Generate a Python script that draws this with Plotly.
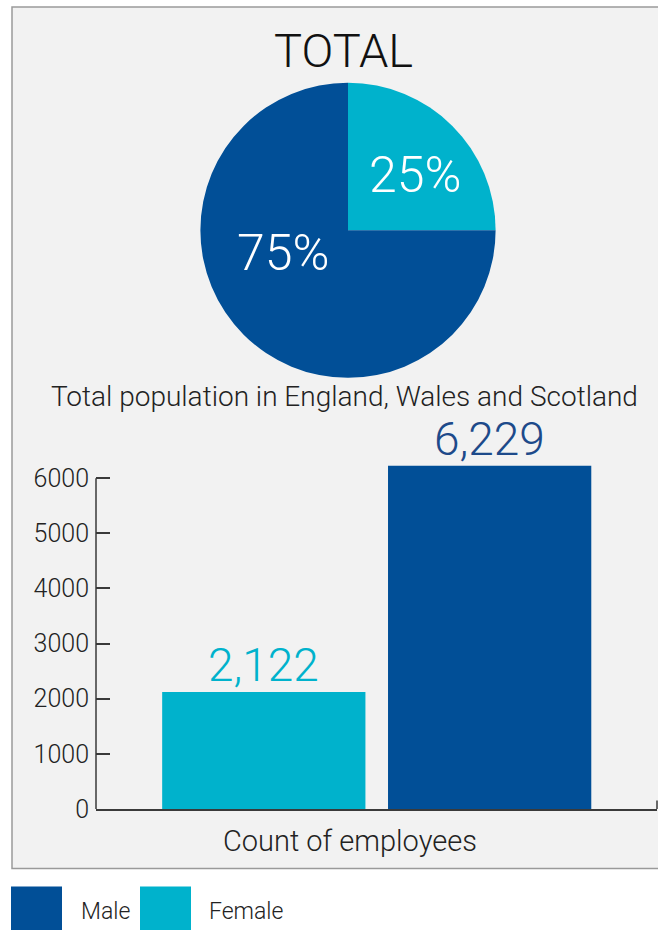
import math
import plotly.graph_objects as go

W, H = 658, 940

# ---- data ----
categories = ["Female", "Male"]
pie_values = [25, 75]
bar_values = [2122, 6229]
colors = {"Male": "#014f97", "Female": "#00b2cc"}
label_colors = {"Male": "#1d4a8a", "Female": "#00b2cc"}
y_ticks = [0, 1000, 2000, 3000, 4000, 5000, 6000]
title_text = "TOTAL"
subtitle_text = "Total population in England, Wales and Scotland"
xlabel_text = "Count of employees"
legend_order = ["Male", "Female"]

# label placement inside pie (angle clockwise from 12 o'clock in degrees, radius fraction)
pie_label_pos = {"Female": (50, 0.58), "Male": (250, 0.46)}

FONT = "Roboto, Liberation Sans, Arial, sans-serif"

def px(x):
    return x / W

def py(y):
    return 1 - y / H

PIE_CX, PIE_CY, PIE_R = 348, 234, 150

fig = go.Figure()

# Pie
fig.add_trace(go.Pie(
    labels=categories,
    values=pie_values,
    sort=False,
    direction="clockwise",
    rotation=0,
    marker=dict(colors=[colors[c] for c in categories], line=dict(width=0)),
    textinfo="none",
    domain=dict(x=[px(PIE_CX - PIE_R), px(PIE_CX + PIE_R)],
                y=[py(PIE_CY + PIE_R), py(PIE_CY - PIE_R)]),
    showlegend=False,
    hoverinfo="label+percent",
))

total = sum(pie_values)
for c, v in zip(categories, pie_values):
    ang, rf = pie_label_pos[c]
    a = math.radians(ang)
    lx = PIE_CX + PIE_R * rf * math.sin(a)
    ly = PIE_CY - PIE_R * rf * math.cos(a)
    fig.add_annotation(text=f"{round(100 * v / total)}%", xref="paper", yref="paper",
                       x=px(lx), y=py(ly), showarrow=False,
                       xanchor="center", yanchor="middle",
                       font=dict(family=FONT, size=50, color="white", weight=300))

# Bars
fig.add_trace(go.Bar(
    x=categories,
    y=bar_values,
    marker=dict(color=[colors[c] for c in categories], line=dict(width=0)),
    showlegend=False,
    width=0.9,
    hovertemplate="%{x}: %{y:,}<extra></extra>",
))

# value labels above bars
for c, v in zip(categories, bar_values):
    fig.add_annotation(text=f"{v:,}", xref="x", yref="y", x=c, y=v,
                       showarrow=False, xanchor="center", yanchor="bottom",
                       yshift=-1, borderpad=0,
                       font=dict(family=FONT, size=46, color=label_colors[c], weight=300))

ppu = (822 - 486) / 6000.0
ymax = (822 - 440) / ppu

fig.update_layout(
    width=W, height=H,
    margin=dict(l=0, r=0, t=0, b=0),
    paper_bgcolor="white",
    plot_bgcolor="rgba(0,0,0,0)",
    font=dict(family=FONT, color="#222222"),
    xaxis=dict(
        domain=[px(96), px(657)],
        range=[-0.743, 1.741],
        showticklabels=False,
        ticks="",
        showgrid=False,
        zeroline=False,
        showline=True,
        linecolor="#3a3a3a",
        linewidth=1.5,
        fixedrange=True,
    ),
    yaxis=dict(
        domain=[py(822), py(440)],
        range=[0, ymax],
        tickvals=y_ticks,
        ticktext=[str(t) for t in y_ticks],
        ticks="inside",
        ticklen=14,
        tickwidth=1.5,
        tickcolor="#3a3a3a",
        tickfont=dict(family=FONT, size=25, color="#222222", weight=300),
        ticklabelstandoff=6,
        showgrid=False,
        zeroline=False,
        showline=False,
        fixedrange=True,
    ),
    bargap=0.1,
)

# panel background
fig.add_shape(type="rect", xref="paper", yref="paper",
              x0=px(12), x1=1.02, y0=py(882.5), y1=py(7),
              fillcolor="#f2f2f2", line=dict(color="#9a9a9a", width=1.5),
              layer="below")
# y axis line up to top tick
fig.add_shape(type="line", xref="x domain", yref="y",
              x0=0, x1=0, y0=0, y1=max(y_ticks),
              line=dict(color="#3a3a3a", width=1.5))
# small end tick at right end of the category axis
fig.add_shape(type="line", xref="x domain", yref="y",
              x0=1, x1=1, y0=0, y1=150,
              line=dict(color="#3a3a3a", width=1.5))

# texts
fig.add_annotation(text=title_text, xref="paper", yref="paper",
                   x=px(343), y=py(51), showarrow=False,
                   font=dict(family=FONT, size=47, color="#111111", weight=300),
                   xanchor="center", yanchor="middle")
fig.add_annotation(text=subtitle_text, xref="paper", yref="paper",
                   x=px(344), y=py(403), showarrow=False, borderpad=0,
                   font=dict(family=FONT, size=28, color="#222222", weight=300),
                   xanchor="center", yanchor="middle")
fig.add_annotation(text=xlabel_text, xref="paper", yref="paper",
                   x=px(350), y=py(855), showarrow=False,
                   font=dict(family=FONT, size=29, color="#222222", weight=300),
                   xanchor="center", yanchor="middle")

# legend (custom)
leg_sq_x = [11, 140]
leg_txt_x = [79, 207]
for i, name in enumerate(legend_order):
    fig.add_shape(type="rect", xref="paper", yref="paper",
                  x0=px(leg_sq_x[i]), x1=px(leg_sq_x[i] + 51),
                  y0=py(945), y1=py(901),
                  fillcolor=colors[name], line=dict(width=0))
    fig.add_annotation(text=name, xref="paper", yref="paper",
                       x=px(leg_txt_x[i]), y=py(926), showarrow=False,
                       font=dict(family=FONT, size=23, color="#222222", weight=300),
                       xanchor="left", yanchor="middle")

fig.write_html("out.html",
               post_script="document.body.style.margin='0';document.body.style.overflow='hidden';")
